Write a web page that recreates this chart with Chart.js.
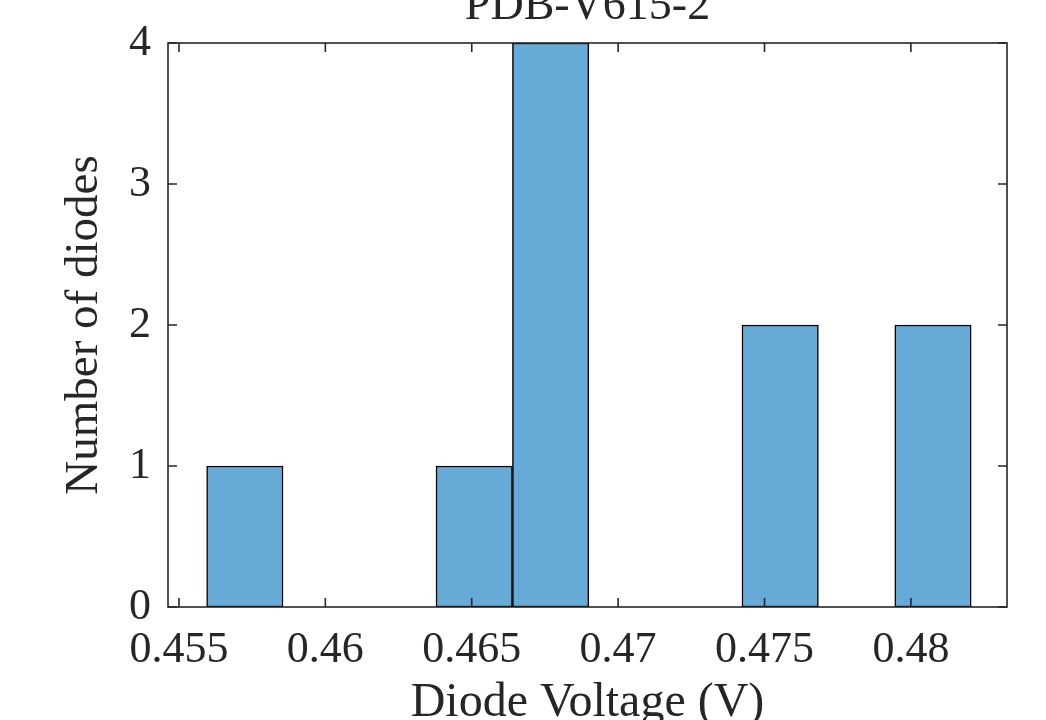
<!DOCTYPE html>
<html lang="en">
<head>
    <meta charset="UTF-8">
    <title>PDB-V615-2</title>
    <script src="https://cdn.jsdelivr.net/npm/chart.js"></script>
    <style>
        html, body { margin: 0; padding: 0; background: #fff; overflow: hidden; }
        #wrap { position: absolute; left: 0; top: -40px; width: 1046px; height: 800px; }
    </style>
</head>
<body>
    <div id="wrap"><canvas id="myChart"></canvas></div>
    <script>
        // histogram bins (V) and counts
        const binEdges = [0.45594, 0.45856, 0.46117, 0.46378, 0.46639, 0.46900, 0.47162, 0.47423, 0.47684, 0.47945, 0.48206];
        const counts = [1, 0, 0, 1, 4, 0, 0, 2, 0, 2];
        const xTicks = [0.455, 0.46, 0.465, 0.47, 0.475, 0.48];
        const xTickLabels = ['0.455', '0.46', '0.465', '0.47', '0.475', '0.48'];
        const yTicks = [0, 1, 2, 3, 4];

        const textColor = '#262626';
        const fontFamily = '"Liberation Serif", "Times New Roman", serif';

        const points = counts.map((c, i) => ({ x: (binEdges[i] + binEdges[i + 1]) / 2, y: c }));

        // MATLAB style box with inward ticks on all sides
        const boxTicks = {
            id: 'boxTicks',
            afterDatasetsDraw(chart) {
                const { ctx, chartArea: a, scales: { x, y } } = chart;
                const len = 9;
                ctx.save();
                ctx.strokeStyle = textColor;
                ctx.lineWidth = 1.6;
                ctx.beginPath();
                xTicks.forEach(v => {
                    const px = x.getPixelForValue(v);
                    ctx.moveTo(px, a.bottom); ctx.lineTo(px, a.bottom - len);
                    ctx.moveTo(px, a.top); ctx.lineTo(px, a.top + len);
                });
                yTicks.forEach(v => {
                    const py = y.getPixelForValue(v);
                    ctx.moveTo(a.left, py); ctx.lineTo(a.left + len, py);
                    ctx.moveTo(a.right, py); ctx.lineTo(a.right - len, py);
                });
                ctx.stroke();
                ctx.strokeRect(a.left, a.top, a.right - a.left, a.bottom - a.top);
                ctx.restore();
            }
        };

        const ctx = document.getElementById('myChart').getContext('2d');
        const myChart = new Chart(ctx, {
            type: 'bar',
            data: {
                datasets: [{
                    data: points,
                    backgroundColor: '#66aad7',
                    borderColor: '#000000',
                    borderWidth: 1.5,
                    borderSkipped: false,
                    barPercentage: 1,
                    categoryPercentage: 1,
                    grouped: false
                }]
            },
            options: {
                responsive: true,
                maintainAspectRatio: false,
                animation: false,
                layout: { padding: { left: 0, right: 39, top: 0, bottom: 0 } },
                plugins: {
                    legend: { display: false },
                    tooltip: { enabled: false }
                },
                scales: {
                    x: {
                        type: 'linear',
                        min: 0.454625,
                        max: 0.483283,
                        offset: false,
                        grid: { display: false, drawTicks: false },
                        border: { display: false },
                        afterBuildTicks: s => { s.ticks = xTicks.map(v => ({ value: v })); },
                        afterFit: s => { s.height = 153; },
                        ticks: {
                            color: textColor,
                            padding: 17,
                            maxRotation: 0,
                            font: { family: fontFamily, size: 44 },
                            callback: (v, i) => xTickLabels[i]
                        },
                        title: {
                            display: true,
                            text: 'Diode Voltage (V)',
                            color: textColor,
                            font: { family: fontFamily, size: 48 },
                            padding: { top: 0, bottom: 28 }
                        }
                    },
                    // top axis only carries the plot title, centred over the plot area
                    xTop: {
                        type: 'linear',
                        position: 'top',
                        min: 0.454625,
                        max: 0.483283,
                        offset: false,
                        grid: { display: false, drawTicks: false },
                        border: { display: false },
                        ticks: { display: false },
                        afterFit: s => { s.height = 83; },
                        title: {
                            display: true,
                            text: 'PDB-V615-2',
                            color: textColor,
                            font: { family: fontFamily, size: 46 },
                            padding: { top: 19, bottom: 0 }
                        }
                    },
                    y: {
                        min: 0,
                        max: 4,
                        grid: { display: false, drawTicks: false },
                        border: { display: false },
                        afterBuildTicks: s => { s.ticks = yTicks.map(v => ({ value: v })); },
                        afterFit: s => { s.width = 168; },
                        ticks: {
                            color: textColor,
                            padding: 17,
                            font: { family: fontFamily, size: 44 }
                        },
                        title: {
                            display: true,
                            text: 'Number of diodes',
                            color: textColor,
                            font: { family: fontFamily, size: 47 },
                            padding: { top: 56, bottom: 0 }
                        }
                    }
                }
            },
            plugins: [boxTicks]
        });
    </script>
</body>
</html>
